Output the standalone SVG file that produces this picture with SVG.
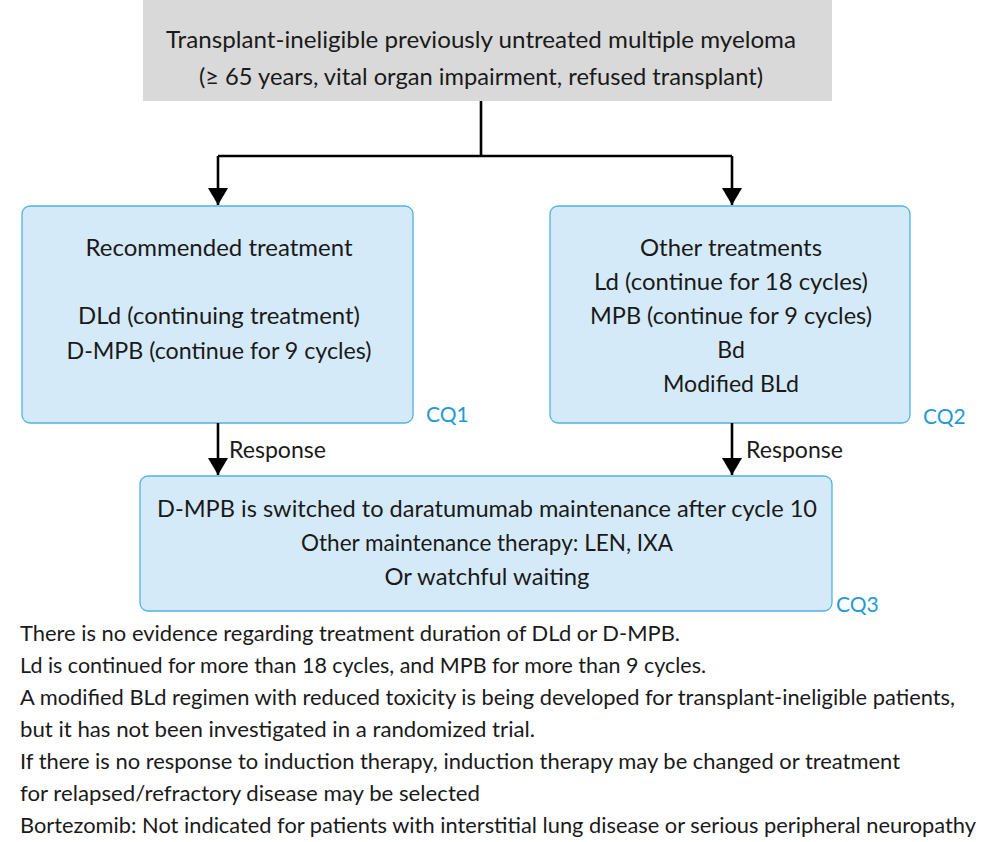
<svg xmlns="http://www.w3.org/2000/svg" width="989" height="842" viewBox="0 0 989 842">
<defs>
<style>
.t{font-family:Lato,"Open Sans","Liberation Sans",sans-serif;font-size:23px;fill:#1a1a1a}
.c{text-anchor:middle}
.fn{font-family:Lato,"Open Sans","Liberation Sans",sans-serif;font-size:21px;fill:#1a1a1a}
.cq{font-family:Lato,"Open Sans","Liberation Sans",sans-serif;font-size:21px;fill:#1f9ad6}
.box{fill:#d5eaf8;stroke:#4fb3e2;stroke-width:1.3}
.ln{stroke:#000;stroke-width:2.6;fill:none}
</style>
<marker id="ah" markerUnits="userSpaceOnUse" markerWidth="18" markerHeight="22" viewBox="0 0 18 22" refX="17" refY="11" orient="auto">
<path d="M0,1 L17,11 L0,21 Z" fill="#000"/>
</marker>
</defs>
<rect width="989" height="842" fill="#fff"/>

<g id="node-top">
<rect x="143" y="0" width="689" height="101" fill="#d9d9d9"/>
<text class="t c" x="481" y="48" textLength="630" lengthAdjust="spacingAndGlyphs">Transplant-ineligible previously untreated multiple myeloma</text>
<text class="t c" x="481" y="85" textLength="564" lengthAdjust="spacingAndGlyphs">(≥ 65 years, vital organ impairment, refused transplant)</text>
</g>

<g id="node-recommended">
<rect class="box" x="22" y="206" width="391" height="217" rx="8"/>
<text class="t c" x="219" y="256" textLength="267" lengthAdjust="spacingAndGlyphs">Recommended treatment</text>
<text class="t c" x="219" y="324" textLength="282" lengthAdjust="spacingAndGlyphs">DLd (continuing treatment)</text>
<text class="t c" x="219" y="359" textLength="305" lengthAdjust="spacingAndGlyphs">D-MPB (continue for 9 cycles)</text>
<text class="cq" x="426" y="422">CQ1</text>
</g>

<g id="node-other">
<rect class="box" x="550" y="206" width="360" height="217" rx="8"/>
<text class="t c" x="731" y="256" textLength="182" lengthAdjust="spacingAndGlyphs">Other treatments</text>
<text class="t c" x="731" y="290" textLength="274" lengthAdjust="spacingAndGlyphs">Ld (continue for 18 cycles)</text>
<text class="t c" x="731" y="324" textLength="282" lengthAdjust="spacingAndGlyphs">MPB (continue for 9 cycles)</text>
<text class="t c" x="731" y="358">Bd</text>
<text class="t c" x="731" y="392" textLength="136" lengthAdjust="spacingAndGlyphs">Modified BLd</text>
<text class="cq" x="923" y="424">CQ2</text>
</g>

<g id="node-maintenance">
<rect class="box" x="140" y="476" width="692" height="135" rx="8"/>
<text class="t c" x="487" y="517" textLength="660" lengthAdjust="spacingAndGlyphs">D-MPB is switched to daratumumab maintenance after cycle 10</text>
<text class="t c" x="487" y="551" textLength="372" lengthAdjust="spacingAndGlyphs">Other maintenance therapy: LEN, IXA</text>
<text class="t c" x="487" y="585" textLength="205" lengthAdjust="spacingAndGlyphs">Or watchful waiting</text>
<text class="cq" x="836" y="612">CQ3</text>
</g>

<g id="connectors">
<path class="ln" d="M481,101 V156 M218,156 H732"/>
<path class="ln" d="M218,156 V205" marker-end="url(#ah)"/>
<path class="ln" d="M732,156 V205" marker-end="url(#ah)"/>
<path class="ln" d="M218,423 V475" marker-end="url(#ah)"/>
<path class="ln" d="M732,423 V475" marker-end="url(#ah)"/>
<text class="t" x="229" y="458" textLength="97" lengthAdjust="spacingAndGlyphs">Response</text>
<text class="t" x="746" y="458" textLength="97" lengthAdjust="spacingAndGlyphs">Response</text>
</g>

<g id="notes">
<text class="fn" x="20" y="641" textLength="660" lengthAdjust="spacingAndGlyphs">There is no evidence regarding treatment duration of DLd or D-MPB.</text>
<text class="fn" x="20" y="673" textLength="686" lengthAdjust="spacingAndGlyphs">Ld is continued for more than 18 cycles, and MPB for more than 9 cycles.</text>
<text class="fn" x="20" y="705" textLength="935" lengthAdjust="spacingAndGlyphs">A modified BLd regimen with reduced toxicity is being developed for transplant-ineligible patients,</text>
<text class="fn" x="20" y="737" textLength="515" lengthAdjust="spacingAndGlyphs">but it has not been investigated in a randomized trial.</text>
<text class="fn" x="20" y="769" textLength="880" lengthAdjust="spacingAndGlyphs">If there is no response to induction therapy, induction therapy may be changed or treatment</text>
<text class="fn" x="20" y="801" textLength="460" lengthAdjust="spacingAndGlyphs">for relapsed/refractory disease may be selected</text>
<text class="fn" x="20" y="833" textLength="956" lengthAdjust="spacingAndGlyphs">Bortezomib: Not indicated for patients with interstitial lung disease or serious peripheral neuropathy</text>
</g>
</svg>
